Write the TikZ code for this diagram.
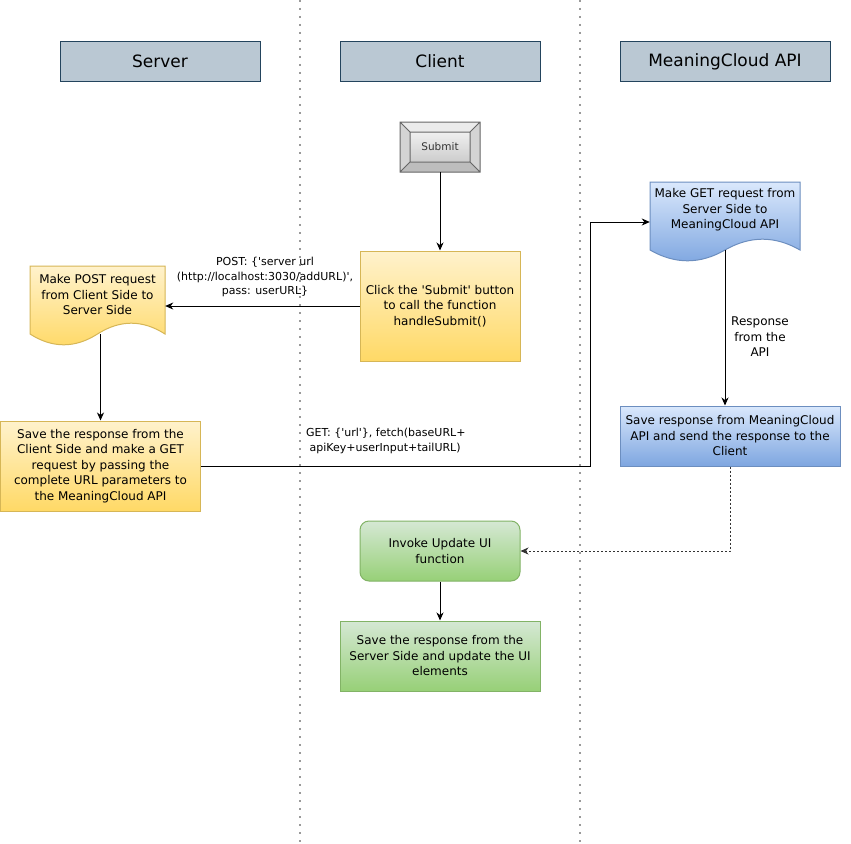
\documentclass[tikz,border=0pt]{standalone}
\usepackage{fontspec}
\setmainfont{DejaVu Sans}[Ligatures=TeXOff]
\usetikzlibrary{arrows.meta}
\definecolor{hdrfill}{HTML}{BAC8D3}
\definecolor{hdrdraw}{HTML}{23445D}
\definecolor{ytop}{HTML}{FFF2CC}
\definecolor{ybot}{HTML}{FFD966}
\definecolor{ydraw}{HTML}{D6B656}
\definecolor{btop}{HTML}{DAE8FC}
\definecolor{bbot}{HTML}{7EA6E0}
\definecolor{bdraw}{HTML}{6C8EBF}
\definecolor{gtop}{HTML}{D5E8D4}
\definecolor{gbot}{HTML}{97D077}
\definecolor{gdraw}{HTML}{82B366}
\definecolor{lanecol}{HTML}{9A9A9A}
\definecolor{btnline}{HTML}{666666}
\definecolor{btntext}{HTML}{333333}
\newcommand\docshape[5]{%
  \path[#5] (#1,#2) -- ({#1+#3},#2) -- ({#1+#3},{#2+0.85*#4})
    .. controls ({#1+#3*5/6},{#2+0.67*#4}) and ({#1+#3*4/6},{#2+0.67*#4}) .. ({#1+#3/2},{#2+0.85*#4})
    .. controls ({#1+#3*2/6},{#2+1.03*#4}) and ({#1+#3/6},{#2+1.03*#4}) .. (#1,{#2+0.85*#4}) -- cycle;}
\begin{document}
\begin{tikzpicture}[x=1pt,y=-1pt,
  every node/.style={font=\fontsize{12}{15.5}\selectfont, align=center, inner sep=0pt},
  hdr/.style={draw=hdrdraw, fill=hdrfill, line width=1pt, minimum width=200pt, minimum height=40pt, font=\fontsize{17}{20}\selectfont},
  ybox/.style={draw=ydraw, line width=1pt, top color=ytop, bottom color=ybot},
  bbox/.style={draw=bdraw, line width=1pt, top color=btop, bottom color=bbot},
  gbox/.style={draw=gdraw, line width=1pt, top color=gtop, bottom color=gbot},
  lbl/.style={font=\fontsize{11}{14.5}\selectfont},
  conn/.style={draw=black, line width=1pt, -{Stealth[length=8pt,width=7pt,inset=2.5pt]}},
  dotconn/.style={draw=black!80, line width=0.8pt, dash pattern=on 2pt off 2pt, -{Stealth[length=8pt,width=7pt,inset=2.5pt]}},
  lane/.style={draw=lanecol, line width=2pt, dash pattern=on 2pt off 6pt}
]
\fill[white] (0,0) rectangle (851,843);
\useasboundingbox (0,0) rectangle (851,843);

% swimlane separators
\draw[lane] (300,0) -- (300,843);
\draw[lane] (580,0) -- (580,843);

% headers
\node[hdr] (hServer) at (160,61.5) {Server};
\node[hdr] (hClient) at (440,61.5) {Client};
\node[hdr, minimum width=210pt] (hAPI) at (725,61.5) {MeaningCloud API};

% submit button (bevelled)
\fill[color=black!8] (400,122) -- (480,122) -- (470,132) -- (410,132) -- cycle;
\fill[color=black!17] (400,122) -- (410,132) -- (410,162) -- (400,172) -- cycle;
\fill[color=black!17] (480,122) -- (470,132) -- (470,162) -- (480,172) -- cycle;
\fill[color=black!26] (400,172) -- (410,162) -- (470,162) -- (480,172) -- cycle;
\shade[top color=black!6, bottom color=black!20] (410,132) rectangle (470,162);
\draw[btnline, line width=1pt] (400,122) rectangle (480,172) (410,132) rectangle (470,162)
  (400,122) -- (410,132) (480,122) -- (470,132) (400,172) -- (410,162) (480,172) -- (470,162);
\node[minimum width=80pt, minimum height=50pt, text=btntext, font=\fontsize{10.5}{12}\selectfont] (submit) at (440,147) {Submit};

% client step
\node[ybox, minimum width=160pt, minimum height=110pt] (click) at (440,306) {Click the 'Submit' button\\to call the function\\handleSubmit()};

% POST document
\docshape{30}{266}{135}{80}{draw=ydraw, line width=1pt, top color=ytop, bottom color=ybot}
\node[minimum width=135pt] (pdoc) at (97.5,295) {Make POST request\\from Client Side to\\Server Side};
\coordinate (pdocb) at (100.5,334);

% server save box
\node[ybox, minimum width=200pt, minimum height=90pt] (save1) at (100.5,466) {Save the response from the\\Client Side and make a GET\\request by passing the\\complete URL parameters to\\the MeaningCloud API};

% GET document
\docshape{650}{182}{150}{80}{draw=bdraw, line width=1pt, top color=btop, bottom color=bbot}
\node[minimum width=150pt] (bdoc) at (725,210) {Make GET request from\\Server Side to\\MeaningCloud API};
\coordinate (bdocb) at (725,250);

% API save box
\node[bbox, minimum width=220pt, minimum height=60pt] (bsave) at (730,436) {Save response from MeaningCloud\\API and send the response to the\\Client};

% green boxes
\node[gbox, rounded corners=9pt, minimum width=160pt, minimum height=60pt] (upd) at (440,551) {Invoke Update UI\\function};
\node[gbox, minimum width=200pt, minimum height=70pt] (fin) at (440,656) {Save the response from the\\Server Side and update the UI\\elements};

% labels
\node[lbl] (postlbl) at (265,277) {POST: \{'server url\\(http://localhost:3030/addURL)',\\pass: userURL\}};
\node[lbl, align=left, anchor=west] (getlbl) at (306,441) {GET: \{'url'\}, fetch(baseURL+\\\ apiKey+userInput+tailURL)};
\node (resplbl) at (760,337) {Response\\from the\\API};

% connectors
\draw[conn] (submit.south) -- (click.north);
\draw[conn] (click.west) -- (click.west -| pdoc.east);
\draw[conn] (pdocb) -- (save1.north);
\coordinate (gx) at (590,466);
\draw[conn] (save1.east) -- (gx) |- ([yshift=-12pt]bdoc.west);
\draw[conn] (bdocb) -- (bdocb |- bsave.north);
\draw[dotconn] (bsave.south) |- (upd.east);
\draw[conn] (upd.south) -- (fin.north);
\end{tikzpicture}
\end{document}
